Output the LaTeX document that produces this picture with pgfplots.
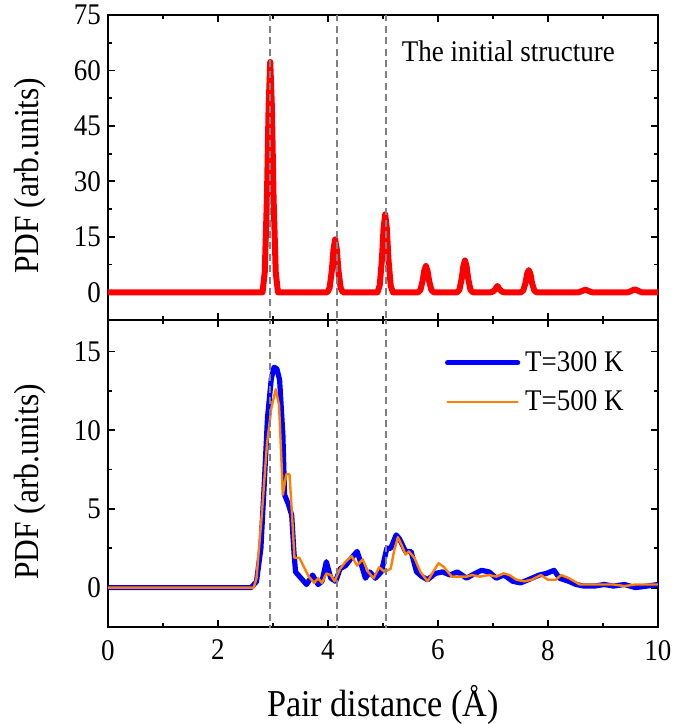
\documentclass[border=0pt]{standalone}
\usepackage{fontspec}
\setmainfont{Liberation Serif}[FakeStretch=0.9]
\usepackage{pgfplots}
\pgfplotsset{compat=1.18}
\definecolor{myred}{RGB}{255,0,0}
\definecolor{myblue}{RGB}{0,0,255}
\definecolor{myorange}{RGB}{255,128,0}
\definecolor{mygray}{RGB}{128,128,128}
\pgfplotsset{
  panel/.style={
    scale only axis, width=275pt,
    xmin=0, xmax=10,
    xtick={0,2,...,10}, minor x tick num=1,
    tick align=inside,
    major tick length=3.5pt, minor tick length=2pt,
    axis line style={line width=1pt},
    every tick/.style={black, line width=0.9pt},
    tick label style={font=\fontsize{15}{15}\selectfont},
    xticklabel style={yshift=-3pt},
    /pgf/number format/assume math mode=true,
    ylabel style={font=\fontsize{17.5}{17.5}\selectfont,
      at={(rel axis cs:0,0.473)}, anchor=center, yshift=39pt},
  },
  dline/.style={mygray, line width=1.1pt, dash pattern=on 3.5pt off 2.2pt, forget plot},
}
\begin{document}
\begin{tikzpicture}
\useasboundingbox (-54pt,-48.5pt) rectangle (288.5pt,313.5pt);
% top panel
\begin{axis}[panel,
  at={(0pt,153.5pt)}, anchor=south west,
  height=152.5pt,
  ymin=-7.5, ymax=75,
  ytick={0,15,...,75}, minor y tick num=1,
  xticklabels={},
  ylabel={PDF (arb.units)},
]
\addplot[myred, line width=3pt, line join=round] coordinates {
(0,0)
(2.81,0)(2.85,5.4)(2.89,25.6)(2.92,50)(2.95,62.3)(2.98,50)(3.01,25.6)(3.05,5.4)(3.09,0)
(3.99,0)(4.03,1.2)(4.07,5.9)(4.10,11.6)(4.13,14.3)(4.16,11.6)(4.19,5.9)(4.23,1.2)(4.27,0)
(4.90,0)(4.94,1.8)(4.98,8.8)(5.01,17.2)(5.04,21.1)(5.07,17.2)(5.10,8.8)(5.14,1.8)(5.18,0)
(5.64,0)(5.68,0.6)(5.72,3.0)(5.75,5.8)(5.78,7.1)(5.81,5.8)(5.84,3.0)(5.88,0.6)(5.92,0)
(6.35,0)(6.39,0.7)(6.43,3.6)(6.46,7.0)(6.49,8.6)(6.52,7.0)(6.55,3.6)(6.59,0.7)(6.63,0)
(6.96,0)(7.00,0.2)(7.04,0.8)(7.08,1.7)(7.12,0.8)(7.16,0.2)(7.20,0)
(7.51,0)(7.55,0.5)(7.59,2.5)(7.62,5.0)(7.65,6.0)(7.68,5.0)(7.71,2.5)(7.75,0.5)(7.79,0)
(8.56,0)(8.62,0.35)(8.68,0.7)(8.74,0.35)(8.80,0)
(9.46,0)(9.52,0.4)(9.58,0.8)(9.64,0.4)(9.70,0)
(10,0)
};
\addplot[dline] coordinates {(2.95,-10)(2.95,80)};
\addplot[dline] coordinates {(4.17,-10)(4.17,80)};
\addplot[dline] coordinates {(5.05,-10)(5.05,80)};
\node[font=\fontsize{15}{15}\selectfont, anchor=center] at (axis cs:7.28,65.2) {The initial structure};
\end{axis}
% bottom panel
\begin{axis}[panel,
  at={(0pt,0pt)}, anchor=south west,
  height=153.5pt,
  ymin=-2.5, ymax=17,
  ytick={0,5,10,15}, minor y tick num=1,
  xlabel={Pair distance (Å)},
  xlabel style={font=\fontsize{19}{19}\selectfont, at={(rel axis cs:0.5,0)}, anchor=base, yshift=-45pt},
  ylabel={PDF (arb.units)},
  legend style={draw=none, fill=none, inner sep=0pt, at={(0.942,0.906)}, anchor=north east,
    font=\fontsize{15}{15}\selectfont, row sep=6.3pt, column sep=1.5pt,
    nodes={inner sep=1pt}},
  legend cell align=left,
  legend image code/.code={\draw[#1, line cap=round] (0pt,0pt) -- (35pt,0pt);},
]
\addplot[myblue, line width=2.6pt, line join=round] coordinates {
(0,0)(2.6,0)(2.7,0.38)(2.78,2.5)(2.84,6.5)(2.9,10.8)(2.97,13.3)(3.02,14.0)(3.07,13.9)(3.12,13.2)(3.18,9.7)(3.21,5.9)(3.28,5.3)(3.34,4.6)(3.38,2.3)(3.41,1.0)(3.51,0.6)(3.61,0.2)(3.72,0.8)(3.82,0.2)(3.89,0.4)(3.97,1.65)(4.05,0.6)(4.14,0.4)(4.22,1.2)(4.32,1.4)(4.43,1.9)(4.53,2.3)(4.59,1.65)(4.68,0.6)(4.76,1.0)(4.86,0.6)(4.97,1.0)(5.07,2.5)(5.14,2.5)(5.24,3.35)(5.3,3.1)(5.41,2.3)(5.51,2.3)(5.61,1.0)(5.71,0.7)(5.81,0.5)(5.95,0.9)(6.08,1.0)(6.22,0.8)(6.35,1.0)(6.52,0.6)(6.62,0.8)(6.79,1.1)(6.93,1.0)(7.06,0.6)(7.2,0.8)(7.36,0.4)(7.5,0.3)(7.64,0.5)(7.84,0.8)(7.97,0.9)(8.11,1.1)(8.21,0.6)(8.38,0.4)(8.51,0.2)(8.65,0.1)(8.85,0.1)(9.02,0.2)(9.19,0.1)(9.39,0.2)(9.59,0.0)(9.8,0.1)(10,0.2)
};
\addlegendentry{T=300 K}
\addplot[myorange, line width=1.2pt, line join=round] coordinates {
(0,0)(2.65,0)(2.7,0.6)(2.8,4.8)(2.89,9.1)(2.97,11.4)(3.05,12.6)(3.11,11.6)(3.18,5.9)(3.24,7.2)(3.3,7.2)(3.34,5.0)(3.39,1.9)(3.48,1.9)(3.55,1.4)(3.65,0.7)(3.75,0.3)(3.82,0.6)(3.89,0.3)(3.97,0.9)(4.05,0.8)(4.12,0.4)(4.22,1.2)(4.32,1.65)(4.43,2.0)(4.53,1.4)(4.63,1.8)(4.73,1.0)(4.83,0.6)(4.93,1.3)(5.03,1.0)(5.14,1.2)(5.2,2.3)(5.27,3.2)(5.34,2.7)(5.41,2.1)(5.47,2.3)(5.57,1.9)(5.68,1.0)(5.81,0.4)(5.91,1.0)(6.01,1.55)(6.11,1.3)(6.25,0.7)(6.39,0.7)(6.52,0.7)(6.62,0.8)(6.76,0.7)(6.93,0.8)(7.06,0.7)(7.2,0.9)(7.3,0.8)(7.43,0.5)(7.57,0.4)(7.7,0.5)(7.87,0.8)(8.0,0.5)(8.14,0.5)(8.24,0.8)(8.38,0.6)(8.58,0.2)(8.78,0.2)(8.99,0.2)(9.19,0.2)(9.39,0.1)(9.59,0.2)(9.8,0.2)(10,0.2)
};
\addlegendentry{T=500 K}
\addplot[dline] coordinates {(2.95,-5)(2.95,20)};
\addplot[dline] coordinates {(4.17,-5)(4.17,20)};
\addplot[dline] coordinates {(5.05,-5)(5.05,20)};
\end{axis}
\end{tikzpicture}
\end{document}
